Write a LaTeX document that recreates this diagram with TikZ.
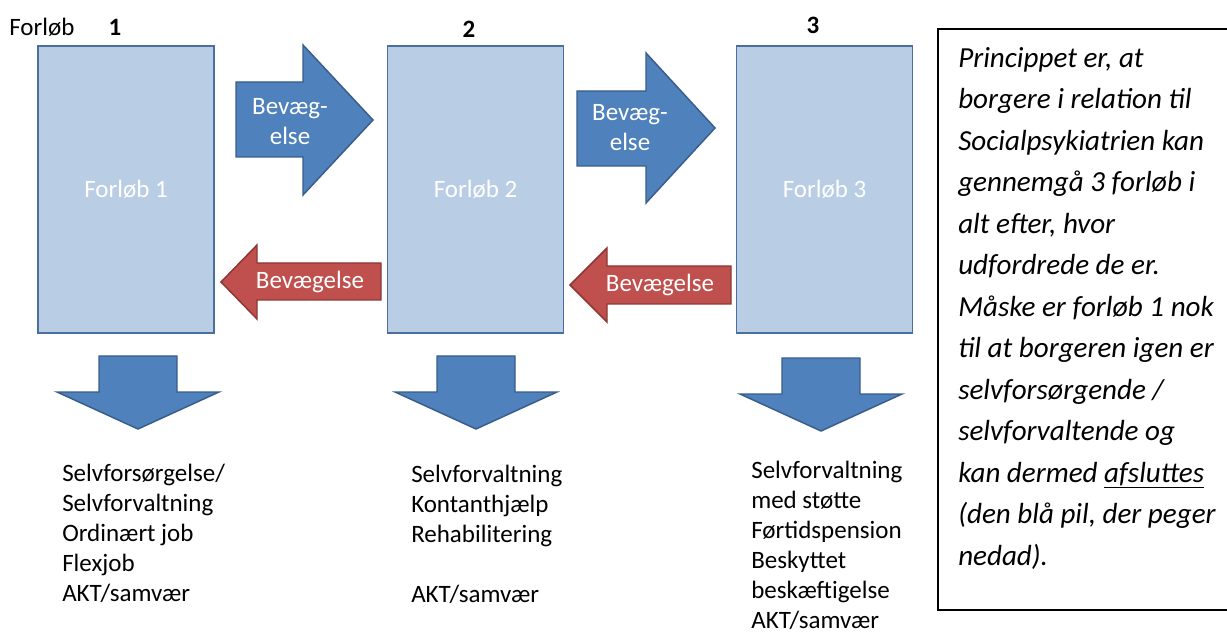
\documentclass[tikz,border=0pt]{standalone}
\usepackage{fontspec}
\setmainfont{Carlito}
\usetikzlibrary{positioning}

\definecolor{boxfill}{RGB}{185,205,229}
\definecolor{boxline}{RGB}{74,110,160}
\definecolor{bluefill}{RGB}{79,129,189}
\definecolor{blueline}{RGB}{56,93,138}
\definecolor{redfill}{RGB}{192,80,77}
\definecolor{redline}{RGB}{140,56,54}

\tikzset{
  txt/.style={inner sep=0pt, font=\fontsize{18.75}{22.5}\selectfont},
  forlob/.style={txt, draw=boxline, fill=boxfill, line width=1.2pt, text=white,
    minimum width=132pt, minimum height=215pt},
  bluearrow/.style={draw=blueline, fill=bluefill, line width=1.1pt, line join=miter},
  redarrow/.style={draw=redline, fill=redfill, line width=1.1pt, line join=miter},
  arrowtext/.style={txt, text=white, align=center},
  liste/.style={txt, align=left, anchor=base west},
}

\begin{document}
\begin{tikzpicture}[x=0.75pt, y=-0.75pt]
\useasboundingbox (0,0) rectangle (1227,634);

% headings
\node[txt, anchor=west] (hoved) at (9,27) {Forløb};
\node[txt, font=\fontsize{18.75}{22.5}\selectfont\bfseries] (nr1) at (115,27) {1};
\node[txt, font=\fontsize{18.75}{22.5}\selectfont\bfseries] (nr2) at (469,29) {2};
\node[txt, font=\fontsize{18.75}{22.5}\selectfont\bfseries] (nr3) at (813,25) {3};

% the three forloeb
\node[forlob] (f1) at (126,189.5) {Forløb 1};
\node[forlob] (f2) at (475.5,189.5) {Forløb 2};
\node[forlob] (f3) at (824.5,189.5) {Forløb 3};

% arrows to the right
\draw[bluearrow] (236,82) -- (303,82) -- (303,45) -- (373,120) -- (303,195) -- (303,157) -- (236,157) -- cycle;
\draw[bluearrow] (577,91) -- (646,91) -- (646,53) -- (715,128) -- (646,203) -- (646,166) -- (577,166) -- cycle;
\node[arrowtext] (op1) at (290,122) {Bevæg-\\else};
\node[arrowtext] (op2) at (630,128) {Bevæg-\\else};

% arrows to the left
\draw[redarrow] (381,263) -- (257,263) -- (257,245) -- (221,282) -- (257,319) -- (257,300) -- (381,300) -- cycle;
\draw[redarrow] (731,266) -- (607,266) -- (607,248) -- (570,285) -- (607,322) -- (607,304) -- (731,304) -- cycle;
\node[arrowtext] (ned1) at (310,282) {Bevægelse};
\node[arrowtext] (ned2) at (660,285) {Bevægelse};

% arrows down
\foreach \x/\y in {138/356, 476/356, 821/358}
  \draw[bluearrow] (\x-39,\y) -- (\x+39,\y) -- (\x+39,\y+36) -- (\x+81,\y+36) -- (\x,\y+73)
    -- (\x-81,\y+36) -- (\x-39,\y+36) -- cycle;

% outcomes (anchored at the baseline of the last line)
\node[liste] (ud1) at (62,601) {Selvforsørgelse/\\Selvforvaltning\\Ordinært job\\Flexjob\\AKT/samvær};
\node[liste] (ud2) at (411,602) {Selvforvaltning\\Kontanthjælp\\Rehabilitering\\[22.5pt]AKT/samvær};
\node[liste] (ud3) at (751,628) {Selvforvaltning\\med støtte\\Førtidspension\\Beskyttet\\beskæftigelse\\AKT/samvær};

% explanation
\draw[line width=1.2pt] (1227,29) -- (938,29) -- (938,610) -- (1227,610);
\node[liste, font=\fontsize{21.8}{31.1}\selectfont\itshape] (forklaring) at (958,565)
  {Princippet er, at\\borgere i relation til\\Socialpsykiatrien kan\\gennemgå 3 forløb i\\alt efter, hvor\\udfordrede de er.\\Måske er forløb 1 nok\\til at borgeren igen er\\selvforsørgende /\\selvforvaltende og\\kan dermed \underline{afsluttes}\\(den blå pil, der peger\\nedad).};
\end{tikzpicture}
\end{document}
